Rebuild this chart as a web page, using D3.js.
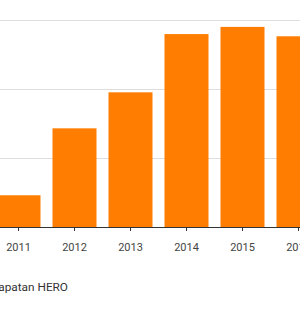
<!DOCTYPE html>
<html>
<head>
<meta charset="utf-8">
<script src="https://cdn.jsdelivr.net/npm/d3@7"></script>
<style>
  body { margin: 0; background: #fff; }
  svg { display: block; font-family: Roboto, "Liberation Sans", sans-serif; }
  .grid line { stroke: #dedede; stroke-width: 1; }
  .axis--x path, .axis--x line { stroke: #333; }
  .axis--x text { fill: #444; font-size: 11px; }
</style>
</head>
<body>
<svg width="300" height="310"></svg>
<script>
// data (units of the hidden y axis)
let years = ["2011", "2012", "2013", "2014", "2015", "2016"];
let pendapatan = [2.3, 7.15, 9.76, 13.98, 14.5, 13.82];
let yTicks = [0, 5, 10, 15];
let seriesName = "Pendapatan HERO";

let svg = d3.select("svg"),
    baseY = 227,
    topY = 20;

let x = d3.scaleBand()
    .domain(years)
    .range([-9.5, 326.5])
    .paddingInner(12 / 56)
    .paddingOuter(6 / 56);

let y = d3.scaleLinear()
    .domain([0, 15])
    .range([baseY, topY]);

// gridlines
svg.append("g")
    .attr("class", "grid")
    .selectAll("line")
    .data(yTicks.filter(function (d) { return d > 0; }))
    .enter().append("line")
    .attr("x1", 0)
    .attr("x2", 300)
    .attr("y1", function (d) { return Math.round(y(d)) + 0.5; })
    .attr("y2", function (d) { return Math.round(y(d)) + 0.5; });

// bars
svg.selectAll(".bar")
    .data(years.map(function (yr, i) { return {year: yr, value: pendapatan[i]}; }))
    .enter().append("rect")
    .attr("class", "bar")
    .attr("fill", "#ff7d00")
    .attr("x", function (d) { return x(d.year); })
    .attr("y", function (d) { return y(d.value); })
    .attr("width", x.bandwidth())
    .attr("height", function (d) { return baseY - y(d.value); });

// x axis
svg.append("g")
    .attr("class", "axis axis--x")
    .attr("transform", "translate(0," + baseY + ")")
    .call(d3.axisBottom(x).tickSize(4).tickSizeOuter(0).tickPadding(12))
    .call(function (g) { g.select(".domain").attr("d", "M0,0.5H300"); })
    .selectAll("text")
    .attr("font-family", "Roboto, sans-serif");

// legend label (left part cut off in the original)
svg.append("text")
    .attr("x", 68)
    .attr("y", 291)
    .attr("text-anchor", "end")
    .attr("fill", "#333")
    .style("font-size", "11.8px")
    .text(seriesName);
</script>
</body>
</html>
